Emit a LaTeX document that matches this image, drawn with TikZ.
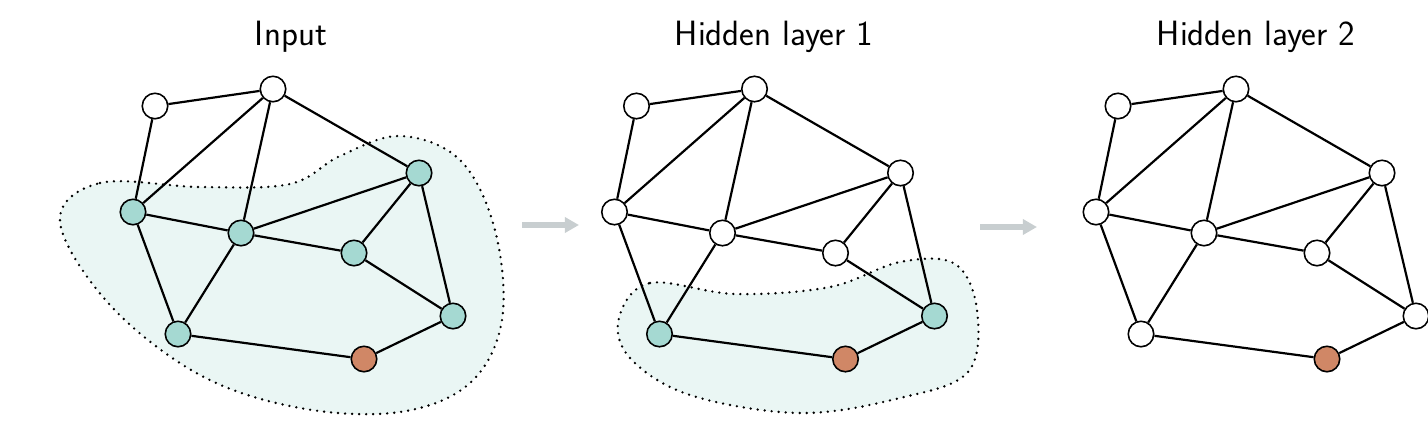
\documentclass[tikz,border=0pt]{standalone}
\usetikzlibrary{arrows.meta}

\definecolor{tealfill}{HTML}{A5D9D2}
\definecolor{orangefill}{HTML}{D08766}
\definecolor{blobfill}{HTML}{EAF6F4}
\definecolor{arrowgray}{HTML}{C8CED0}

\begin{document}
\begin{tikzpicture}
    [
        x=0.02cm, y=-0.02cm,
        white_node/.style={circle, draw=black, fill=white, line width=0.9pt, minimum size=0.51cm, inner sep=0pt},
        teal_node/.style={white_node, fill=tealfill},
        orange_node/.style={white_node, fill=orangefill},
        edge/.style={line width=1.25pt, color=black},
        blob/.style={fill=blobfill, line width=1.5pt, dash pattern=on 0pt off 4pt, line cap=round},
        gray_arrow/.style={line width=3.7pt, color=arrowgray, -{Triangle[length=8pt, width=8.5pt]}},
        title/.style={anchor=base, font=\sffamily\fontsize{20}{24}\selectfont},
    ]
        \useasboundingbox (0,0) rectangle (1428,430);

        % receptive fields
        \draw[blob] plot[smooth cycle, tension=0.6] coordinates {(60,222) (100,183) (200,187) (290,184) (340,156) (400,136) (460,160) (495,230) (502,320) (470,383) (400,412) (300,408) (200,375) (110,305)};
        \draw[blob] plot[smooth cycle, tension=0.6] coordinates {(619,318) (650,283) (735,294) (830,287) (900,262) (955,264) (977,310) (968,372) (900,398) (800,413) (690,395) (630,358)};

        \node[title] (title1) at (291,45) {Input};
        \node[title] (title2) at (774,45) {Hidden layer 1};
        \node[title] (title3) at (1256,45) {Hidden layer 2};

        % one copy of the graph per layer
        \foreach \k/\dx in {1/0, 2/481.5, 3/963}
        {
            \begin{scope}[shift={(\dx,0)}]
                \foreach \n/\x/\y/\L in {a/155/106/0, b/273/89/0, c/133/212/1, d/241/233/1, e/419/173/1, f/354/253/1, g/178/334/2, h/364/359/9, i/453/316/2}
                {
                    \ifnum\L=9 \def\sty{orange_node}\else\ifnum\k>\L \def\sty{white_node}\else\def\sty{teal_node}\fi\fi
                    \node[\sty] (g\k\n) at (\x,\y) {};
                }
                \foreach \u/\v in {a/b, a/c, b/c, b/d, b/e, c/d, c/g, d/e, d/f, d/g, e/f, e/i, f/i, g/h, h/i}
                    \draw[edge] (g\k\u) -- (g\k\v);
            \end{scope}
        }

        \coordinate (arr1s) at (522,225);
        \coordinate (arr1e) at (579,225);
        \coordinate (arr2s) at (980,227);
        \coordinate (arr2e) at (1037,227);
        \draw[gray_arrow] (arr1s) -- (arr1e);
        \draw[gray_arrow] (arr2s) -- (arr2e);
\end{tikzpicture}
\end{document}
